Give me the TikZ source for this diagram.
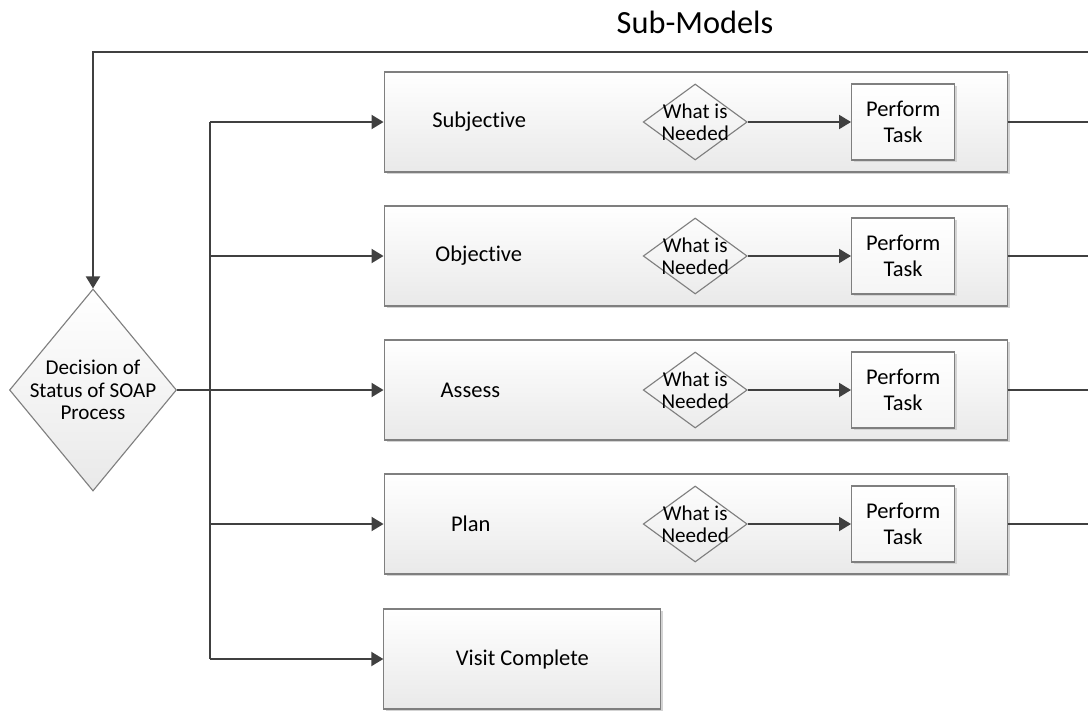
\documentclass[tikz,border=0pt]{standalone}
\usepackage{fontspec}
\setmainfont{Carlito}[Ligatures=NoCommon]
\usetikzlibrary{arrows.meta,shapes.geometric,shadows}
\definecolor{grisosc}{HTML}{404040}
\definecolor{borde}{HTML}{7F7F7F}
\definecolor{fondo}{HTML}{E9E9E9}
\definecolor{sombra}{HTML}{D3D3D3}
\tikzset{
  every node/.style = {font=\fontsize{16}{18.5}\selectfont, text=black},
  caja/.style       = {draw=borde, line width=0.8pt, top color=white,
                       bottom color=fondo, minimum width=15.575cm,
                       minimum height=2.5cm, inner sep=0pt,
                       drop shadow={shadow xshift=0.06cm, shadow yshift=-0.06cm,
                                    fill=sombra, opacity=1}},
  tarea/.style      = {caja, bottom color=fondo!45!white, minimum width=2.58cm,
                       minimum height=1.9cm, align=center},
  rombo/.style      = {diamond, draw=borde, line width=0.8pt, inner sep=0pt},
  etrombo/.style    = {font=\fontsize{15}{15.8}\selectfont, align=center,
                       inner sep=0pt},
  etiq/.style       = {inner sep=0pt},
  titulo/.style     = {font=\fontsize{23}{27}\selectfont},
  flecha/.style     = {-{Triangle[length=0.3cm,width=0.35cm]}, draw=grisosc,
                       line width=1.4pt},
  linea/.style      = {draw=grisosc, line width=1.4pt},
}

\begin{document}
\begin{tikzpicture}
\useasboundingbox (0,0) rectangle (27.2,-17.75);

% ---------------------------------------------------------------
% Decision y bus
% ---------------------------------------------------------------
\node[titulo] (tit) at (17.375,-0.55) {Sub-Models};

\node[rombo, minimum width=4.175cm, minimum height=5.05cm, top color=white,
      bottom color=fondo] (dec) at (2.325,-9.75) {};
\node[etrombo] (tdec) at (dec) {Decision of\\Status of SOAP\\Process};

\coordinate (bus) at (5.25,0);
\coordinate (bordeN) at (27.2,-1.3);

\node[caja, minimum width=6.925cm] (vc) at (13.06,-16.475) {};
\node[etiq] (lvc) at (vc) {Visit Complete};

% ---------------------------------------------------------------
% Sub-modelos
% ---------------------------------------------------------------
\foreach \i/\y/\x/\nom in {1/-3.05/11.98/Subjective, 2/-6.4/11.97/Objective,
                           3/-9.75/11.76/Assess, 4/-13.1/11.77/Plan} {
  \node[caja] (s\i) at (17.39,\y) {};
  \node[etiq] (ls\i) at (\x,\y) {\nom};
  \node[rombo, minimum width=2.6cm, minimum height=1.9cm] (qn\i) at (17.38,\y) {};
  \node[etrombo] (tq\i) at (qn\i) {What is\\Needed};
  \node[tarea] (pt\i) at (22.58,\y) {Perform\\Task};
  \coordinate (borde\i) at (27.2,\y);
  \draw[flecha] (bus |- s\i.west) -- (s\i.west);
  \draw[flecha] (qn\i.east) -- (pt\i.west);
  \draw[linea] (s\i.east) -- (borde\i);
}

\draw[linea] (dec.east) -- (bus |- dec.east);
\draw[linea] (bus |- s1.west) -- (bus |- vc.west);
\draw[flecha] (bus |- vc.west) -- (vc.west);
\draw[flecha] (bordeN) -- (dec.north |- bordeN) -- (dec.north);

\end{tikzpicture}
\end{document}
